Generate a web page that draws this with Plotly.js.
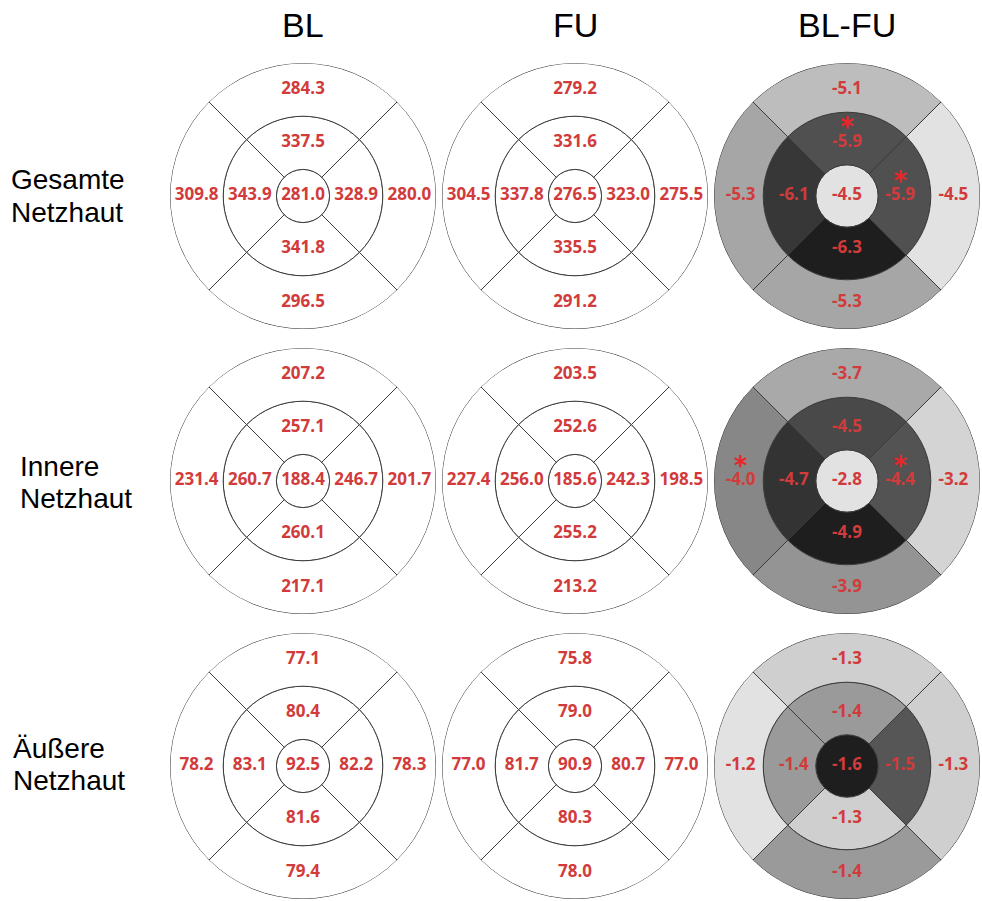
<!DOCTYPE html>
<html>
<head>
<meta charset="utf-8">
<script src="https://cdn.plot.ly/plotly-3.0.1.min.js"></script>
<style>html,body{margin:0;padding:0;background:#fff;}#chart{width:982px;height:901px;}</style>
</head>
<body>
<div id="chart"></div>
<script>
// Column titles and row labels
const columns = ['BL', 'FU', 'BL-FU'];
const measures = ['Gesamte<br>Netzhaut', 'Innere<br>Netzhaut', 'Äußere<br>Netzhaut'];
// Sector order: centre, inner top/right/bottom/left, outer top/right/bottom/left
const sectors = ['Zentrum', 'Innen oben', 'Innen rechts', 'Innen unten', 'Innen links',
                 'Außen oben', 'Außen rechts', 'Außen unten', 'Außen links'];

const gesamtBL   = [281.0, 337.5, 328.9, 341.8, 343.9, 284.3, 280.0, 296.5, 309.8];
const gesamtFU   = [276.5, 331.6, 323.0, 335.5, 337.8, 279.2, 275.5, 291.2, 304.5];
const gesamtDiff = [-4.5, -5.9, -5.9, -6.3, -6.1, -5.1, -4.5, -5.3, -5.3];
const gesamtSig  = [0, 1, 1, 0, 0, 0, 0, 0, 0];

const innereBL   = [188.4, 257.1, 246.7, 260.1, 260.7, 207.2, 201.7, 217.1, 231.4];
const innereFU   = [185.6, 252.6, 242.3, 255.2, 256.0, 203.5, 198.5, 213.2, 227.4];
const innereDiff = [-2.8, -4.5, -4.4, -4.9, -4.7, -3.7, -3.2, -3.9, -4.0];
const innereSig  = [0, 0, 1, 0, 0, 0, 0, 0, 1];

const aeussereBL   = [92.5, 80.4, 82.2, 81.6, 83.1, 77.1, 78.3, 79.4, 78.2];
const aeussereFU   = [90.9, 79.0, 80.7, 80.3, 81.7, 75.8, 77.0, 78.0, 77.0];
const aeussereDiff = [-1.6, -1.4, -1.5, -1.3, -1.4, -1.3, -1.3, -1.4, -1.2];
const aeussereSig  = [0, 0, 0, 0, 0, 0, 0, 0, 0];

const grid = [
  [gesamtBL, gesamtFU, gesamtDiff],
  [innereBL, innereFU, innereDiff],
  [aeussereBL, aeussereFU, aeussereDiff]
];
const sigs = [gesamtSig, innereSig, aeussereSig];

// ---- geometry / styling ----
const W = 982, H = 901, R = 133;
const colX = [303, 575, 847];
const rowY = [196, 481, 766];
const labelX = [9, 18, 11];
const labelMid = [196, 482, 764];
const lineGap = 32;
const thetaOf = [0, 90, 0, 270, 180, 90, 0, 270, 180];
const widthOf = [360, 90, 90, 90, 90, 90, 90, 90, 90];
const ringPlain = [0.2, 0.6];
const ringDiff = [0.235, 0.63];
const grayScale = [[0, '#1e1e1e'], [0.25, '#565656'], [0.5, '#9a9a9a'], [0.75, '#cfcfcf'], [1, '#e2e2e2']];
const red = '#d23b3b';

const data = [];
const layout = {
  width: W, height: H,
  margin: {l: 0, r: 0, t: 0, b: 0},
  paper_bgcolor: '#fff',
  showlegend: false,
  hovermode: false,
  annotations: []
};

let k = 0;
for (let r = 0; r < 3; r++) {
  for (let c = 0; c < 3; c++) {
    k++;
    const name = k === 1 ? 'polar' : 'polar' + k;
    const vals = grid[r][c];
    const isDiff = c === 2;
    const ring = isDiff ? ringDiff : ringPlain;
    const base = vals.map((v, i) => i === 0 ? 0 : (i < 5 ? ring[0] : ring[1]));
    const len = vals.map((v, i) => i === 0 ? ring[0] : (i < 5 ? ring[1] - ring[0] : 1 - ring[1]));
    const marker = {line: {color: '#3c3c3c', width: 1}};
    if (isDiff) {
      marker.color = vals;
      marker.colorscale = grayScale;
      marker.cmin = Math.min(...vals);
      marker.cmax = Math.max(...vals);
      marker.showscale = false;
    } else {
      marker.color = '#ffffff';
    }
    data.push({
      type: 'barpolar', subplot: name,
      r: len, base: base, theta: thetaOf, width: widthOf,
      marker: marker, hoverinfo: 'skip'
    });
    const labR = vals.map((v, i) => i === 0 ? 0 : (i < 5 ? 0.4 : 0.8));
    data.push({
      type: 'scatterpolar', subplot: name, mode: 'text',
      r: labR, theta: thetaOf,
      text: vals.map(v => v.toFixed(1)),
      textposition: 'middle center',
      textfont: {family: 'Open Sans, sans-serif', size: 17, weight: 'bold', color: red},
      hoverinfo: 'skip', cliponaxis: false
    });
    if (isDiff) {
      const sig = sigs[r];
      const idx = sig.map((s, i) => s ? i : -1).filter(i => i >= 0);
      if (idx.length) {
        data.push({
          type: 'scatterpolar', subplot: name, mode: 'text',
          r: idx.map(i => labR[i]), theta: idx.map(i => thetaOf[i]),
          text: idx.map(() => '*'),
          textposition: 'top center',
          textfont: {family: 'DejaVu Sans, sans-serif', size: 26, weight: 'bold', color: '#e8262a'},
          hoverinfo: 'skip', cliponaxis: false
        });
      }
    }
    layout[name] = {
      domain: {
        x: [(colX[c] - R) / W, (colX[c] + R) / W],
        y: [1 - (rowY[r] + R) / H, 1 - (rowY[r] - R) / H]
      },
      bgcolor: 'rgba(0,0,0,0)',
      hole: 0,
      radialaxis: {visible: false, range: [0, 1]},
      angularaxis: {visible: false, rotation: 0, direction: 'counterclockwise'}
    };
  }
}

columns.forEach((t, c) => {
  layout.annotations.push({
    text: t, xref: 'paper', yref: 'paper',
    x: colX[c] / W, y: 1 - 25 / H, xanchor: 'center', yanchor: 'middle',
    showarrow: false,
    font: {family: 'Arial, Liberation Sans, sans-serif', size: 34, color: '#000'}
  });
});
measures.forEach((t, r) => {
  const lines = t.split('<br>');
  lines.forEach((line, i) => {
    const yc = labelMid[r] + (i - (lines.length - 1) / 2) * lineGap;
    layout.annotations.push({
      text: line, xref: 'paper', yref: 'paper',
      x: labelX[r] / W, y: 1 - yc / H, xanchor: 'left', yanchor: 'middle',
      align: 'left', showarrow: false,
      font: {family: 'Arial, Liberation Sans, sans-serif', size: 28, color: '#000'}
    });
  });
});

Plotly.newPlot('chart', data, layout, {staticPlot: true, displayModeBar: false});
</script>
</body>
</html>
